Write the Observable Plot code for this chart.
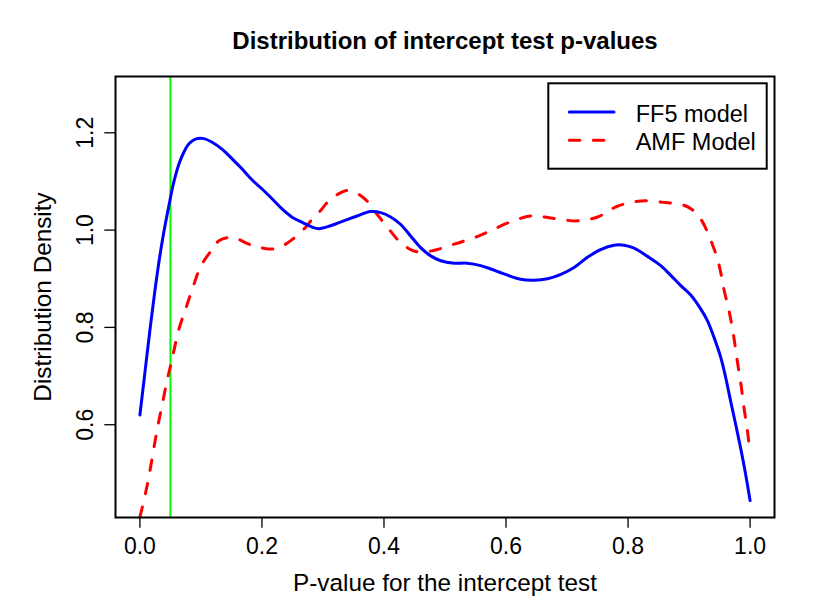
<!DOCTYPE html>
<html><head><meta charset="utf-8">
<script src="https://cdn.jsdelivr.net/npm/d3@7"></script>
<script src="https://cdn.jsdelivr.net/npm/@observablehq/plot@0.6"></script>
<style>body{margin:0;background:#fff} svg{display:block}</style>
</head><body><div id="chart"></div>
<script>
// ---- data ----
const ff5P = [0.000,0.008,0.016,0.024,0.031,0.037,0.042,0.0475,0.053,0.0585,0.064,0.072,0.080,0.091,0.105,0.119,0.135,0.1515,0.168,0.184,0.2007,0.217,0.2334,0.250,0.266,0.2826,0.2934,0.3126,0.334,0.356,0.378,0.3946,0.411,0.427,0.4436,0.460,0.4766,0.493,0.5148,0.5367,0.5585,0.575,0.5967,0.624,0.646,0.668,0.690,0.7115,0.7334,0.755,0.777,0.7934,0.810,0.832,0.8536,0.870,0.8864,0.903,0.919,0.930,0.941,0.952,0.960,0.968,0.976,0.984,0.992,1.000];
const ff5D = [0.620,0.705,0.790,0.870,0.933,0.980,1.015,1.050,1.085,1.113,1.136,1.160,1.177,1.187,1.188,1.180,1.166,1.146,1.125,1.103,1.084,1.064,1.043,1.026,1.016,1.006,1.003,1.009,1.019,1.029,1.038,1.036,1.027,1.012,0.988,0.964,0.947,0.937,0.932,0.932,0.927,0.920,0.910,0.899,0.897,0.900,0.909,0.923,0.944,0.960,0.969,0.969,0.963,0.946,0.927,0.907,0.886,0.866,0.838,0.814,0.779,0.738,0.697,0.649,0.603,0.555,0.503,0.444];
const amfP = [0.000,0.0095,0.0164,0.023,0.0295,0.0367,0.0438,0.0503,0.0557,0.064,0.075,0.086,0.0995,0.1187,0.1295,0.1515,0.1787,0.192,0.2115,0.228,0.250,0.2716,0.2826,0.296,0.307,0.3236,0.337,0.351,0.3646,0.373,0.3836,0.3946,0.410,0.422,0.438,0.452,0.471,0.4875,0.5066,0.520,0.539,0.5557,0.575,0.6077,0.640,0.662,0.684,0.717,0.750,0.7826,0.821,0.859,0.889,0.903,0.919,0.936,0.949,0.957,0.966,0.973,0.979,0.985,0.990,0.9957,1.000];
const amfD = [0.410,0.461,0.505,0.553,0.598,0.642,0.687,0.722,0.752,0.797,0.838,0.879,0.925,0.961,0.978,0.985,0.971,0.966,0.961,0.964,0.981,1.006,1.023,1.040,1.057,1.073,1.081,1.079,1.068,1.059,1.041,1.023,0.999,0.981,0.964,0.956,0.956,0.960,0.968,0.973,0.981,0.988,0.999,1.017,1.029,1.027,1.023,1.019,1.027,1.049,1.060,1.057,1.052,1.044,1.023,0.978,0.929,0.879,0.831,0.783,0.731,0.683,0.635,0.587,0.540];
const seriesNames = ["FF5 model", "AMF Model"];
const seriesColors = ["#0000ff", "#ff0000"];
const seriesDash = [null, "10.5,13.5"];
const threshold = [0.05];
const xTicks = [0, 0.2, 0.4, 0.6, 0.8, 1.0];
const yTicks = [0.6, 0.8, 1.0, 1.2];
const titleText = "Distribution of intercept test p-values";
const xLabel = "P-value for the intercept test";
const yLabel = "Distribution Density";

const ff5 = ff5P.map((p, i) => ({p, d: ff5D[i]}));
const amf = amfP.map((p, i) => ({p, d: amfD[i]}));
const fmt = d3.format(".1f");
const FONT = "'Liberation Sans', Arial, Helvetica, sans-serif";
const FS = 23;
const FSL = 24.3;

const svg = Plot.plot({
  width: 832, height: 614,
  marginLeft: 115, marginRight: 58, marginTop: 76, marginBottom: 97,
  style: {fontFamily: FONT, background: "#fff", color: "#000"},
  x: {domain: [-0.04, 1.04], label: null},
  y: {domain: [0.4093, 1.3157], label: null},
  marks: [
    Plot.ruleX(threshold, {stroke: "#00ff00", strokeWidth: 2}),
    Plot.line(amf, {x: "p", y: "d", stroke: seriesColors[1], strokeWidth: 3, strokeDasharray: seriesDash[1], curve: "catmull-rom"}),
    Plot.line(ff5, {x: "p", y: "d", stroke: seriesColors[0], strokeWidth: 3, curve: "catmull-rom"}),
    Plot.frame({stroke: "#000", strokeWidth: 2}),
    Plot.axisX({ticks: xTicks, tickFormat: fmt, tickSize: 10.7, tickPadding: 9.3, fontSize: FS, label: null, strokeWidth: 1.3}),
    Plot.axisY({ticks: yTicks, tickFormat: () => "", tickSize: 10.7, label: null, strokeWidth: 1.3}),
    Plot.text(yTicks, {y: d => d, text: d => fmt(d), frameAnchor: "left", dx: -29.7, rotate: -90, textAnchor: "middle", lineAnchor: "middle", fontSize: FS}),
    Plot.text([yLabel], {frameAnchor: "left", dx: -64.5, rotate: -90, textAnchor: "middle", lineAnchor: "bottom", fontSize: FSL}),
    Plot.text([xLabel], {frameAnchor: "bottom", dy: 73, textAnchor: "middle", lineAnchor: "bottom", fontSize: FSL}),
    Plot.text([titleText], {frameAnchor: "top", dy: -27.7, textAnchor: "middle", lineAnchor: "bottom", fontSize: 24, fontWeight: "bold"})
  ]
});

// legend (top-right box, R style)
const lg = d3.select(svg).append("g").attr("font-family", FONT).attr("font-size", 23.5).attr("text-anchor", "start");
lg.append("rect").attr("x", 548.3).attr("y", 83.3).attr("width", 218.4).attr("height", 85.4)
  .attr("fill", "#fff").attr("stroke", "#000").attr("stroke-width", 2);
seriesNames.forEach((name, i) => {
  const yy = 112 + i * 28.3;
  lg.append("line").attr("x1", 569.3).attr("x2", 614).attr("y1", yy).attr("y2", yy)
    .attr("stroke", seriesColors[i]).attr("stroke-width", 3).attr("stroke-linecap", "round")
    .attr("stroke-dasharray", seriesDash[i]);
  lg.append("text").attr("x", 635.7).attr("y", yy + 9.7).attr("fill", "#000").attr("text-anchor", "start").text(name);
});

document.getElementById("chart").appendChild(svg);
</script>
</body></html>
